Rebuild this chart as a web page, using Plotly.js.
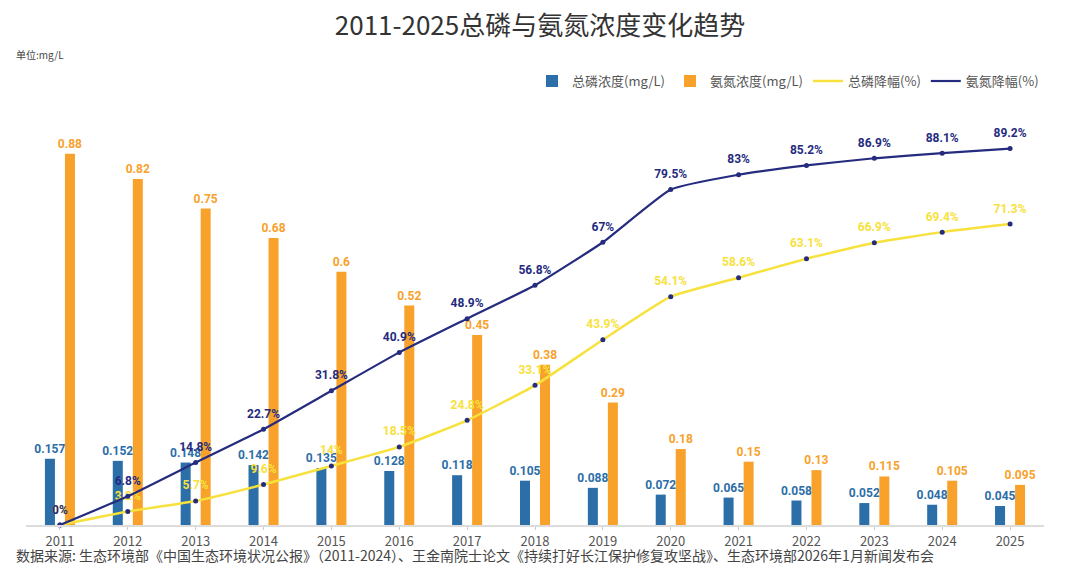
<!DOCTYPE html>
<html><head><meta charset="utf-8">
<script src="https://cdn.plot.ly/plotly-3.0.1.min.js"></script>
<style>html,body{margin:0;padding:0;background:#fff;}#chart{width:1080px;height:576px;}</style>
</head><body><div id="chart"></div>
<script>
const years = ['2011','2012','2013','2014','2015','2016','2017','2018','2019','2020','2021','2022','2023','2024','2025'];
const tpConc = [0.157,0.152,0.148,0.142,0.135,0.128,0.118,0.105,0.088,0.072,0.065,0.058,0.052,0.048,0.045];
const nhConc = [0.88,0.82,0.75,0.68,0.6,0.52,0.45,0.38,0.29,0.18,0.15,0.13,0.115,0.105,0.095];
const tpDrop = [0,3.2,5.7,9.6,14,18.5,24.8,33.1,43.9,54.1,58.6,63.1,66.9,69.4,71.3];
const nhDrop = [0,6.8,14.8,22.7,31.8,40.9,48.9,56.8,67,79.5,83,85.2,86.9,88.1,89.2];

const CJK = '"Noto Sans CJK SC", "Noto Sans", sans-serif';
const NUM = 'Roboto, "DejaVu Sans", sans-serif';
const BLUE = '#2B6EA8', ORANGE = '#F8A12B', YELLOW = '#F7E13C', NAVY = '#252B7E';

const traces = [
  {type:'bar', name:'总磷浓度(mg/L)', x:years, y:tpConc, marker:{color:BLUE},
   text:tpConc.map(String), textposition:'outside', cliponaxis:false, constraintext:'none',
   textfont:{family:NUM, size:12, color:BLUE, weight:'bold'}},
  {type:'bar', name:'氨氮浓度(mg/L)', x:years, y:nhConc, marker:{color:ORANGE},
   text:nhConc.map(String), textposition:'outside', cliponaxis:false, constraintext:'none',
   textfont:{family:NUM, size:12, color:ORANGE, weight:'bold'}},
  {type:'scatter', mode:'lines+markers+text', name:'总磷降幅(%)', x:years, y:tpDrop, yaxis:'y2',
   line:{color:YELLOW, width:2.5, shape:'spline', smoothing:0.4},
   marker:{size:12, color:'rgba(0,0,0,0)'},
   text:tpDrop.map(v=>v+'%'), textposition:'top center', cliponaxis:false,
   textfont:{family:NUM, size:12, color:YELLOW, weight:'bold'}},
  {type:'scatter', mode:'lines+markers+text', name:'氨氮降幅(%)', x:years, y:nhDrop, yaxis:'y2',
   line:{color:NAVY, width:2.2, shape:'spline', smoothing:0.4},
   marker:{size:12, color:'rgba(0,0,0,0)'},
   text:nhDrop.map(v=>v+'%'), textposition:'top center', cliponaxis:false,
   textfont:{family:NUM, size:12, color:NAVY, weight:'bold'}},
  {type:'scatter', mode:'markers', showlegend:false, hoverinfo:'skip', x:years, y:tpDrop, yaxis:'y2',
   marker:{color:NAVY, size:5}, cliponaxis:false},
  {type:'scatter', mode:'markers', showlegend:false, hoverinfo:'skip', x:years, y:nhDrop, yaxis:'y2',
   marker:{color:NAVY, size:5}, cliponaxis:false}
];

const layout = {
  width:1080, height:576,
  margin:{l:26, r:36, t:103, b:51},
  paper_bgcolor:'#fff', plot_bgcolor:'#fff',
  barmode:'group', bargap:0.41, bargroupgap:0.5,
  title:{text:'2011-2025总磷与氨氮浓度变化趋势', x:0.5, xanchor:'center', y:0.955, yanchor:'middle',
         font:{family:CJK, size:26, color:'#333'}},
  showlegend:true,
  legend:{orientation:'h', x:1, xanchor:'right', y:1.052, yanchor:'middle',
          font:{family:CJK, size:13, color:'#555'}, itemwidth:30, traceorder:'normal'},
  xaxis:{type:'category', range:[-0.5,14.5], autorange:false, showgrid:false, showline:true, linecolor:'#dcdcdc', linewidth:2,
         ticks:'outside', ticklen:3, tickcolor:'#ccc',
         tickfont:{family:CJK, size:13, color:'#555'}, fixedrange:true},
  yaxis:{range:[0,1], visible:false, showgrid:false, zeroline:false},
  yaxis2:{range:[0,100], overlaying:'y', side:'right', visible:false, showgrid:false, zeroline:false},
  annotations:[
    {xref:'paper', yref:'paper', x:-0.012, y:1.114, xanchor:'left', yanchor:'middle', showarrow:false,
     text:'单位:mg/L', font:{family:CJK, size:10, color:'#444'}},
    {xref:'paper', yref:'paper', x:-0.012, y:-0.071, xanchor:'left', yanchor:'middle', showarrow:false,
     text:'数据来源: 生态环境部《中国生态环境状况公报》（2011-2024）、王金南院士论文《持续打好长江保护修复攻坚战》、生态环境部2026年1月新闻发布会',
     font:{family:CJK, size:14, color:'#444'}}
  ]
};
Plotly.newPlot('chart', traces, layout, {displayModeBar:false, staticPlot:true});
</script></body></html>
